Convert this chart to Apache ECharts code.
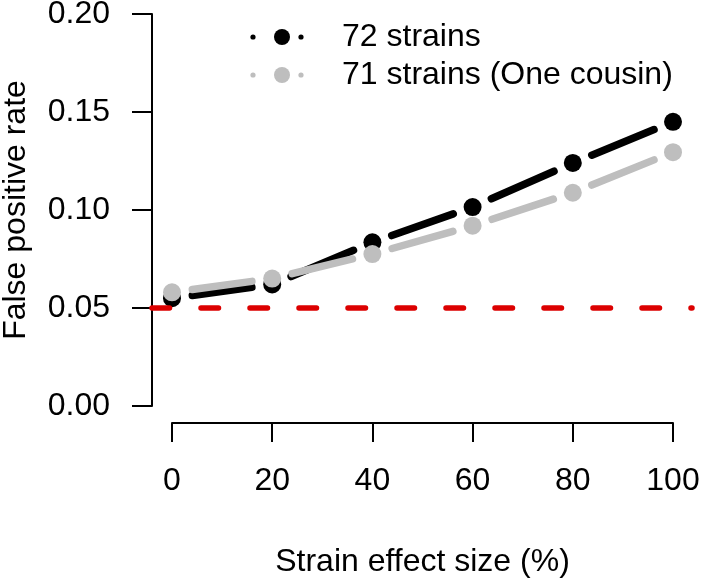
<!DOCTYPE html>
<html>
<head>
<meta charset="utf-8">
<style>
  html, body { margin: 0; padding: 0; background: #ffffff; }
  #chart { width: 702px; height: 581px; }
</style>
<script src="https://cdn.jsdelivr.net/npm/echarts@6/dist/echarts.min.js"></script>
</head>
<body>
<div id="chart"></div>
<script>
// ---- Data ----
const effectSizes = [0, 20, 40, 60, 80, 100];
const fpr72 = [0.055, 0.062, 0.0835, 0.1015, 0.124, 0.145];
const fpr71 = [0.058, 0.065, 0.0775, 0.092, 0.1088, 0.1295];
const nominalRate = 0.05;
const seriesNames = ['72 strains', '71 strains (One cousin)'];
const xTitle = 'Strain effect size (%)';
const yTitle = 'False positive rate';

const FONT = 'Liberation Sans, Arial, Helvetica, sans-serif';
const FS = 32;
const BLACK = '#000000';
const GRAY = '#BEBEBE';
const RED = '#DC0000';

function pairs(xs, ys) { return xs.map((x, i) => [x, ys[i]]); }
function segments(xs, ys) {
  const out = [];
  for (let i = 0; i < xs.length - 1; i++) out.push([xs[i], ys[i], xs[i + 1], ys[i + 1]]);
  return out;
}
function segRender(color) {
  return function (params, api) {
    const a = api.coord([api.value(0), api.value(1)]);
    const b = api.coord([api.value(2), api.value(3)]);
    const dx = b[0] - a[0], dy = b[1] - a[1];
    const L = Math.hypot(dx, dy);
    const g = 20.5;
    if (L <= 2 * g) return null;
    const ux = dx / L, uy = dy / L;
    return {
      type: 'line',
      shape: { x1: a[0] + ux * g, y1: a[1] + uy * g, x2: b[0] - ux * g, y2: b[1] - uy * g },
      style: { stroke: color, lineWidth: 7.5, lineCap: 'round' }
    };
  };
}

const chart = echarts.init(document.getElementById('chart'), null, { renderer: 'canvas' });

const option = {
  backgroundColor: '#ffffff',
  animation: false,
  grid: [
    { left: 172, right: 29, top: 14, height: 392, containLabel: false, outerBoundsMode: 'none' },
    { left: 152, right: 10, top: 14, height: 392, containLabel: false, outerBoundsMode: 'none' }
  ],
  xAxis: [
    {
      type: 'value', gridIndex: 0, min: 0, max: 100, interval: 20,
      position: 'bottom', offset: 17,
      axisLine: { show: true, onZero: false, lineStyle: { color: BLACK, width: 2 } },
      axisTick: { show: true, length: 19, lineStyle: { color: BLACK, width: 2 } },
      axisLabel: { margin: 42, color: BLACK, fontSize: FS, fontFamily: FONT },
      splitLine: { show: false },
      name: xTitle, nameLocation: 'middle', nameGap: 123,
      nameTextStyle: { color: BLACK, fontSize: FS, fontFamily: FONT }
    },
    {
      type: 'value', gridIndex: 1, min: -4, max: 104, show: false
    }
  ],
  yAxis: [
    {
      type: 'value', gridIndex: 0, min: 0, max: 0.2, interval: 0.05,
      position: 'left', offset: 20,
      axisLine: { show: true, onZero: false, lineStyle: { color: BLACK, width: 2 } },
      axisTick: { show: true, length: 20, lineStyle: { color: BLACK, width: 2 } },
      axisLabel: { margin: 42, color: BLACK, fontSize: FS, fontFamily: FONT,
        formatter: v => v.toFixed(2) },
      splitLine: { show: false },
      name: yTitle, nameLocation: 'middle', nameGap: 120, nameRotate: 90,
      nameTextStyle: { color: BLACK, fontSize: FS, fontFamily: FONT }
    },
    {
      type: 'value', gridIndex: 1, min: 0, max: 0.2, show: false
    }
  ],
  series: [
    {
      type: 'custom', name: seriesNames[0], xAxisIndex: 0, yAxisIndex: 0,
      renderItem: segRender(BLACK), data: segments(effectSizes, fpr72),
      encode: { x: [0, 2], y: [1, 3] }, z: 2, silent: true
    },
    {
      type: 'scatter', name: seriesNames[0], xAxisIndex: 0, yAxisIndex: 0,
      data: pairs(effectSizes, fpr72), symbol: 'circle', symbolSize: 18,
      itemStyle: { color: BLACK, opacity: 1 }, z: 3, silent: true
    },
    {
      type: 'custom', name: seriesNames[1], xAxisIndex: 0, yAxisIndex: 0,
      renderItem: segRender(GRAY), data: segments(effectSizes, fpr71),
      encode: { x: [0, 2], y: [1, 3] }, z: 4, silent: true
    },
    {
      type: 'scatter', name: seriesNames[1], xAxisIndex: 0, yAxisIndex: 0,
      data: pairs(effectSizes, fpr71), symbol: 'circle', symbolSize: 18,
      itemStyle: { color: GRAY, opacity: 1 }, z: 5, silent: true
    },
    {
      type: 'line', name: 'nominal', xAxisIndex: 1, yAxisIndex: 1,
      data: [[-4, nominalRate], [104, nominalRate]], symbol: 'none',
      lineStyle: { color: RED, width: 5.5, type: [17.5, 31.5], cap: 'round' },
      z: 6, silent: true
    }
  ],
  graphic: [
    { type: 'circle', shape: { cx: 253, cy: 37, r: 2.6 }, style: { fill: BLACK } },
    { type: 'circle', shape: { cx: 282, cy: 37, r: 8 }, style: { fill: BLACK } },
    { type: 'circle', shape: { cx: 301, cy: 37, r: 2.6 }, style: { fill: BLACK } },
    { type: 'text', x: 342, y: 37, style: { text: seriesNames[0], fill: BLACK, font: FS + 'px ' + FONT, verticalAlign: 'middle', align: 'left' } },
    { type: 'circle', shape: { cx: 253, cy: 75, r: 2.6 }, style: { fill: GRAY } },
    { type: 'circle', shape: { cx: 282, cy: 75, r: 8 }, style: { fill: GRAY } },
    { type: 'circle', shape: { cx: 301, cy: 75, r: 2.6 }, style: { fill: GRAY } },
    { type: 'text', x: 342, y: 75, style: { text: seriesNames[1], fill: BLACK, font: FS + 'px ' + FONT, verticalAlign: 'middle', align: 'left' } }
  ]
};
chart.setOption(option);
</script>
</body>
</html>
